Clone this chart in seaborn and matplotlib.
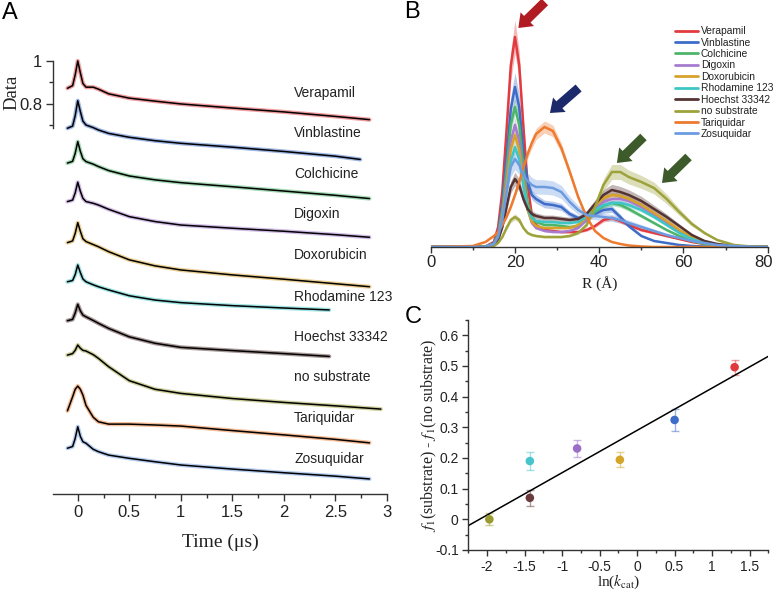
import numpy as np
import pandas as pd
import matplotlib
matplotlib.use('Agg')
import matplotlib.pyplot as plt
import matplotlib.transforms as mtransforms
import seaborn as sns
from matplotlib.ticker import MultipleLocator, FixedLocator

sns.set_theme(style='white')
plt.rcParams['font.family'] = ['Liberation Sans', 'DejaVu Sans']
plt.rcParams['mathtext.fontset'] = 'stix'
plt.rcParams['axes.unicode_minus'] = False
SERIF = ['Liberation Serif', 'DejaVu Serif']

# ---------------- shared categories ----------------
names = ['Verapamil', 'Vinblastine', 'Colchicine', 'Digoxin', 'Doxorubicin',
         'Rhodamine 123', 'Hoechst 33342', 'no substrate', 'Tariquidar', 'Zosuquidar']
colors = ['#e23b3f', '#3d6cc9', '#4db56a', '#a77bd0', '#d7a22a',
          '#3ec6c6', '#553333', '#9da23a', '#ee7a2e', '#6d9be0']

# ---------------- panel A: DEER time traces ----------------
t_common = [-0.1, -0.05, -0.025, 0, 0.025, 0.05, 0.08, 0.15, 0.2, 0.3, 0.5,
            0.75, 1.0, 1.5, 2.0, 2.5]
t_end = [2.83, 2.74, 2.83, 2.83, 2.83, 2.44, 2.44, 2.94, 2.83, 2.83]
trace_offset = [0, -0.185, -0.375, -0.564, -0.752, -0.949, -1.132, -1.321, -1.512, -1.701]
tr_verapamil = [0.873, 0.885, 0.935, 1.0, 0.945, 0.895, 0.878, 0.878, 0.869, 0.847, 0.827, 0.813, 0.800, 0.781, 0.763, 0.742, 0.727]
tr_vinblastine = [0.872, 0.882, 0.93, 1.0, 0.95, 0.905, 0.887, 0.875, 0.864, 0.848, 0.830, 0.814, 0.802, 0.784, 0.764, 0.742, 0.727]
tr_colchicine = [0.90, 0.908, 0.945, 1.0, 0.955, 0.92, 0.907, 0.895, 0.884, 0.865, 0.840, 0.822, 0.809, 0.790, 0.770, 0.750, 0.735]
tr_digoxin = [0.91, 0.917, 0.95, 1.0, 0.958, 0.925, 0.91, 0.902, 0.894, 0.874, 0.840, 0.817, 0.801, 0.786, 0.772, 0.756, 0.744]
tr_doxorubicin = [0.907, 0.915, 0.95, 1.0, 0.96, 0.925, 0.912, 0.898, 0.888, 0.865, 0.827, 0.799, 0.780, 0.757, 0.737, 0.716, 0.702]
tr_rhodamine = [0.922, 0.928, 0.955, 1.0, 0.965, 0.935, 0.922, 0.908, 0.899, 0.884, 0.857, 0.837, 0.825, 0.811, 0.800, 0.791]
tr_hoechst = [0.924, 0.93, 0.96, 1.0, 0.97, 0.95, 0.942, 0.925, 0.912, 0.888, 0.849, 0.819, 0.800, 0.785, 0.771, 0.758]
tr_nosub = [0.953, 0.96, 0.975, 1.0, 0.985, 0.975, 0.972, 0.955, 0.938, 0.899, 0.834, 0.794, 0.775, 0.751, 0.733, 0.717, 0.702]
tr_tariquidar = [0.885, 0.95, 0.985, 1.0, 0.985, 0.958, 0.91, 0.855, 0.834, 0.823, 0.823, 0.819, 0.814, 0.793, 0.773, 0.752, 0.736]
tr_zosuquidar = [0.90, 0.908, 0.945, 1.0, 0.955, 0.93, 0.923, 0.895, 0.884, 0.868, 0.853, 0.837, 0.822, 0.803, 0.786, 0.770, 0.757]
traces = [tr_verapamil, tr_vinblastine, tr_colchicine, tr_digoxin, tr_doxorubicin,
          tr_rhodamine, tr_hoechst, tr_nosub, tr_tariquidar, tr_zosuquidar]

# ---------------- panel B: distance distributions ----------------
R = [0, 10, 13, 15, 16, 17, 18, 19, 20, 21, 22, 23, 24, 25, 27, 29, 31, 33, 35, 37,
     39, 41, 43, 45, 47, 50, 53, 56, 59, 62, 65, 68, 72, 76, 80]
p_verapamil = [0, 0, 0.5, 5, 20, 56, 117, 181, 210, 182, 120, 62, 32, 22, 17, 16, 15, 15, 15, 17, 21, 27, 29, 26, 22, 17, 14, 11, 8, 5, 3, 1.5, 0.5, 0, 0]
p_vinblastine = [0, 0, 0.5, 4, 15, 43, 90, 138, 160, 140, 95, 65, 52, 48, 43, 42, 40, 33, 29, 30, 33, 37, 38, 30, 21, 11, 6, 4, 2, 1, 0.5, 0, 0, 0, 0]
p_colchicine = [0, 0, 0.5, 3, 13, 38, 78, 122, 140, 122, 80, 45, 30, 25, 22, 22, 21, 20, 21, 27, 35, 41, 44, 42, 38, 31, 24, 17, 11, 6, 3, 1.5, 0.5, 0, 0]
p_digoxin = [0, 0, 0.5, 3, 11, 33, 68, 106, 122, 106, 68, 38, 24, 19, 16, 15, 15, 16, 19, 27, 38, 45, 48, 48, 46, 40, 32, 24, 16, 9, 5, 2, 0.5, 0, 0]
p_doxorubicin = [0, 0, 0.5, 3, 10, 30, 62, 97, 112, 97, 64, 37, 25, 21, 19, 19, 19, 19, 22, 30, 41, 49, 52, 51, 48, 42, 34, 26, 17, 10, 5, 2, 0.5, 0, 0]
p_rhodamine = [0, 0, 0.3, 2, 9, 27, 55, 86, 100, 88, 60, 38, 29, 26, 25, 25, 24, 24, 25, 30, 37, 42, 44, 44, 42, 37, 30, 22, 14, 8, 4, 2, 0.5, 0, 0]
p_hoechst = [0, 0, 0.3, 2, 7, 20, 40, 60, 68, 62, 48, 38, 33, 31, 29, 29, 28, 27, 28, 33, 43, 52, 57, 55, 52, 46, 38, 30, 21, 12, 6, 3, 1, 0, 0]
p_nosub = [0, 0, 0.2, 1, 4, 10, 19, 27, 30, 27, 19, 14, 12, 11, 10, 10, 10, 11, 14, 22, 40, 62, 75, 75, 70, 65, 59, 48, 35, 23, 14, 7, 2, 0.5, 0]
p_tariquidar = [0, 1, 5, 11, 15, 22, 30, 40, 52, 65, 79, 93, 104, 113, 120, 116, 99, 75, 50, 30, 16, 9, 5, 3, 1.5, 0.5, 0, 0, 0, 0, 0, 0, 0, 0, 0]
p_zosuquidar = [0, 0, 0.3, 3, 10, 27, 55, 80, 88, 82, 72, 66, 62, 60, 60, 59, 55, 45, 37, 32, 31, 30, 29, 27, 24, 20, 16, 12, 9, 6, 4, 2, 1, 0.3, 0]
dists = [p_verapamil, p_vinblastine, p_colchicine, p_digoxin, p_doxorubicin,
         p_rhodamine, p_hoechst, p_nosub, p_tariquidar, p_zosuquidar]
band_rel = [0.08, 0.09, 0.06, 0.06, 0.06, 0.06, 0.1, 0.1, 0.05, 0.12]

# ---------------- panel C: f1 vs ln(kcat) ----------------
c_names = ['no substrate', 'Hoechst 33342', 'Rhodamine 123', 'Digoxin', 'Doxorubicin', 'Vinblastine', 'Verapamil']
c_x = [-1.97, -1.43, -1.43, -0.80, -0.23, 0.50, 1.30]
c_y = [0.0, 0.070, 0.190, 0.231, 0.194, 0.324, 0.496]
c_err = [0.02, 0.025, 0.03, 0.027, 0.025, 0.035, 0.025]
c_colors = ['#9a9a30', '#6b3a3a', '#48c4cc', '#9b6fc9', '#d4a529', '#3d6cc9', '#e03a3a']
fit_slope = 0.138
fit_intercept = 0.290
fit_range = [-2.25, 1.75]

TXT = '#222222'
fig = plt.figure(figsize=(7.74, 5.91), dpi=100)

def style_spines(ax, show):
    for s in ['left', 'right', 'top', 'bottom']:
        ax.spines[s].set_visible(s in show)
        ax.spines[s].set_color('#333333')
        ax.spines[s].set_linewidth(1.0)

# ======== Panel A ========
axA = fig.add_axes([0.0685, 0.1641, 0.4315, 0.7437])
rows = []
for i, (nm, vals) in enumerate(zip(names, traces)):
    ts = t_common[:len(vals) - 1] + [t_end[i]]
    for t, v in zip(ts, vals):
        rows.append((nm, t, v + trace_offset[i]))
dfA = pd.DataFrame(rows, columns=['name', 't', 'y'])
sns.lineplot(data=dfA, x='t', y='y', hue='name', palette=dict(zip(names, colors)),
             estimator=None, sort=False, lw=3.0, alpha=0.5, legend=False, ax=axA)
sns.lineplot(data=dfA, x='t', y='y', units='name', color='black',
             estimator=None, sort=False, lw=1.1, legend=False, ax=axA)
for i, nm in enumerate(names):
    axA.text(2.1, trace_offset[i] + 0.85, nm, fontsize=10, color=TXT,
             ha='left', va='center')
axA.set_xlim(-0.24, 3.0)
axA.set_ylim(-1.014, 1.03)
style_spines(axA, ['left', 'bottom'])
axA.spines['left'].set_bounds(0.69, 1.0)
axA.set_yticks([0.8, 1.0])
axA.set_yticklabels(['0.8', '1'])
axA.yaxis.set_minor_locator(FixedLocator([0.7, 0.9]))
axA.set_xticks([0, 0.5, 1, 1.5, 2, 2.5, 3])
axA.set_xticklabels(['0', '0.5', '1', '1.5', '2', '2.5', '3'])
axA.xaxis.set_minor_locator(MultipleLocator(0.25))
axA.tick_params(which='major', direction='out', length=5, width=1, color='#333333',
                labelsize=12, labelcolor=TXT, left=True, bottom=True, pad=3)
axA.tick_params(which='minor', direction='out', length=3, width=1, color='#333333',
                left=True, bottom=True)
axA.set_xlabel('Time (\u03bcs)', fontsize=14, family=SERIF, color=TXT, labelpad=10)
axA.set_ylabel('')
fig.text(12 / 774, 1 - 92 / 591, 'Data', rotation=90, fontsize=13.5, family=SERIF,
         color=TXT, ha='center', va='center')
axA.patch.set_alpha(0)

# ======== Panel B ========
axB = fig.add_axes([0.5565, 0.5821, 0.4354, 0.4061])
Ra = np.array(R, dtype=float)
for i, (nm, p) in enumerate(zip(names, dists)):
    pa = np.array(p, dtype=float)
    axB.fill_between(Ra, pa * (1 - band_rel[i]), pa * (1 + band_rel[i]),
                     color=colors[i], alpha=0.35, lw=0)
rowsB = []
for nm, p in zip(names, dists):
    for r, v in zip(R, p):
        rowsB.append((nm, r, v))
dfB = pd.DataFrame(rowsB, columns=['name', 'R', 'P'])
sns.lineplot(data=dfB, x='R', y='P', hue='name', hue_order=names,
             palette=dict(zip(names, colors)), estimator=None, lw=1.8, ax=axB)
axB.set_xlim(0, 80)
axB.set_ylim(0, 240)
style_spines(axB, ['bottom'])
axB.set_yticks([])
axB.set_ylabel('')
axB.set_xticks([0, 20, 40, 60, 80])
axB.set_xticklabels(['0', '20', '40', '60', '80'])
axB.xaxis.set_minor_locator(MultipleLocator(10))
axB.tick_params(which='major', direction='out', length=4, width=1, color='#333333',
                labelsize=12, labelcolor=TXT, bottom=True, pad=2)
axB.tick_params(which='minor', direction='out', length=2.5, width=1, color='#333333', bottom=True)
last = axB.get_xticklabels()[-1]
last.set_ha('right')
last.set_transform(last.get_transform() + mtransforms.ScaledTranslation(5 / 100, 0, fig.dpi_scale_trans))
axB.set_xlabel('R (\u00c5)', fontsize=11, family=SERIF, color=TXT, labelpad=4)
leg = axB.legend(loc='upper left', bbox_to_anchor=(670 / 774, 1 - 21 / 591),
                 bbox_transform=fig.transFigure, frameon=False, fontsize=7.4,
                 handlelength=2.2, handletextpad=0.3, labelspacing=0.14, borderpad=0)
for lh in leg.get_lines():
    lh.set_linewidth(2)
for tx in leg.get_texts():
    tx.set_color(TXT)
arrows = [((27.1, 245), (20.8, 219), '#b01c22'),
          ((35.1, 159), (28.3, 134), '#1c2a6b'),
          ((50.5, 110), (44.2, 84), '#3d5a2a'),
          ((61.2, 90), (54.9, 64), '#3d5a2a')]
for tail, head, col in arrows:
    axB.annotate('', xy=head, xytext=tail, annotation_clip=False,
                 arrowprops=dict(arrowstyle='simple,head_length=0.75,head_width=1.15,tail_width=0.55',
                                 color=col, mutation_scale=12, shrinkA=0, shrinkB=0, lw=0))
axB.patch.set_alpha(0)

# ======== Panel C ========
axC = fig.add_axes([0.6051, 0.0694, 0.3876, 0.3892])
dfC = pd.DataFrame({'name': c_names, 'x': c_x, 'y': c_y, 'err': c_err})
for xi, yi, ei, ci in zip(c_x, c_y, c_err, c_colors):
    axC.errorbar(xi, yi, yerr=ei, fmt='none', ecolor=ci, alpha=0.5, elinewidth=1,
                 capsize=3, capthick=1)
fx = np.array(fit_range)
axC.plot(fx, fit_intercept + fit_slope * fx, color='black', lw=1.1)
sns.scatterplot(data=dfC, x='x', y='y', hue='name', palette=dict(zip(c_names, c_colors)),
                s=38, edgecolor='none', legend=False, ax=axC, zorder=3)
axC.set_xlim(-2.25, 1.75)
axC.set_ylim(-0.1, 0.65)
style_spines(axC, ['left', 'bottom'])
axC.set_xticks([-2, -1.5, -1, -0.5, 0, 0.5, 1, 1.5])
axC.set_xticklabels(['-2', '-1.5', '-1', '-0.5', '0', '0.5', '1', '1.5'])
axC.xaxis.set_minor_locator(MultipleLocator(0.25))
axC.set_yticks([-0.1, 0, 0.1, 0.2, 0.3, 0.4, 0.5, 0.6])
axC.set_yticklabels(['-0.1', '0', '0.1', '0.2', '0.3', '0.4', '0.5', '0.6'])
axC.yaxis.set_minor_locator(MultipleLocator(0.05))
axC.tick_params(which='major', direction='out', length=4, width=1, color='#333333',
                labelsize=10, labelcolor=TXT, left=True, bottom=True, pad=3)
axC.tick_params(which='minor', direction='out', length=2.5, width=1, color='#333333',
                left=True, bottom=True)
axC.set_xlabel(r'ln($k_{\rm cat}$)', fontsize=11, family=SERIF, color=TXT, labelpad=-1)
axC.set_ylabel(r'$f_1$(substrate) - $f_1$(no substrate)', fontsize=11.5, family=SERIF,
               color=TXT, labelpad=-3)
axC.patch.set_alpha(0)

# panel letters
fig.text(2 / 774, 1 - 19 / 591, 'A', fontsize=17, color='black', ha='left', va='baseline')
fig.text(404 / 774, 1 - 18 / 591, 'B', fontsize=17, color='black', ha='left', va='baseline')
fig.text(405 / 774, 1 - 323 / 591, 'C', fontsize=17, color='black', ha='left', va='baseline')

fig.savefig('out.png', dpi=100)
